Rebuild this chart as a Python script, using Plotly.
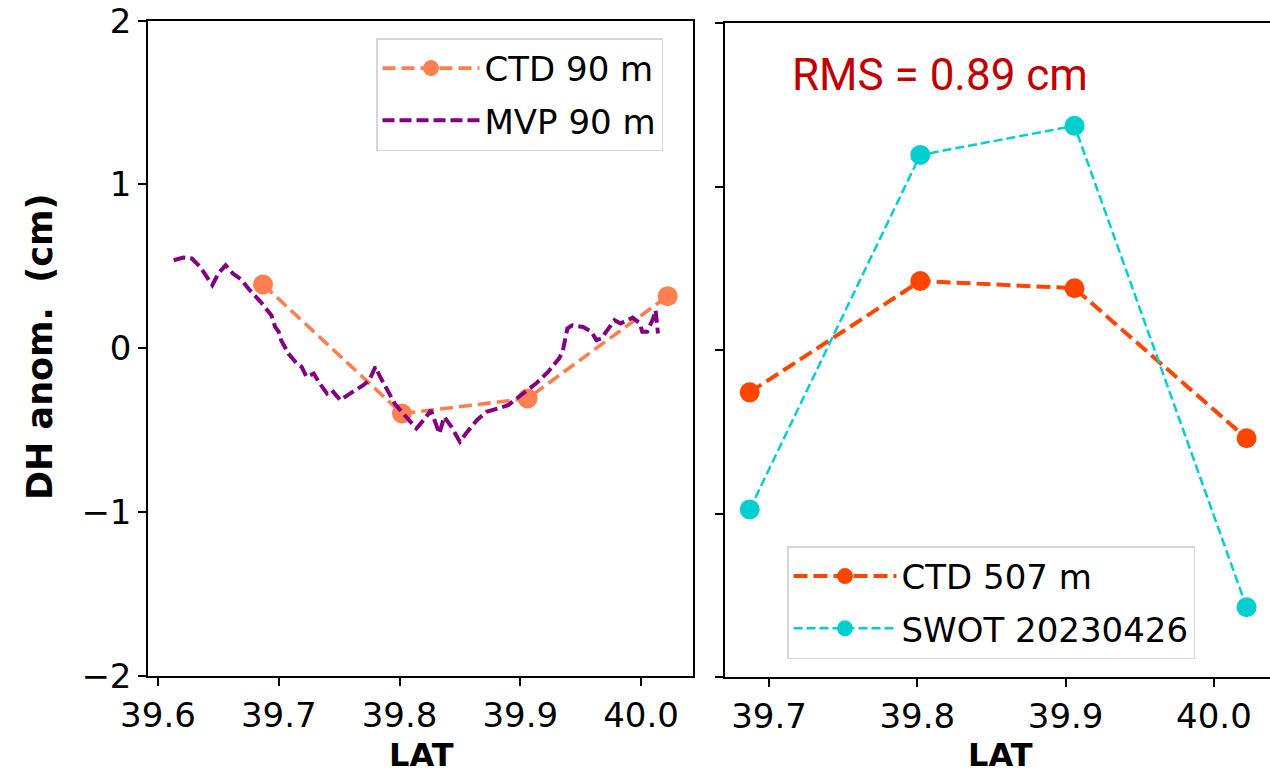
import plotly.graph_objects as go

# ---------------- data ----------------
ctd_lat = [39.687, 39.802, 39.906, 40.022]
ctd90_dh = [0.389, -0.399, -0.307, 0.318]

mvp_lat = [39.613, 39.621, 39.628, 39.635, 39.645, 39.650, 39.656, 39.662, 39.669, 39.676,
           39.685, 39.689, 39.694, 39.697, 39.700, 39.702, 39.708, 39.715, 39.719, 39.723,
           39.729, 39.734, 39.740, 39.744, 39.751, 39.759, 39.770, 39.775, 39.780, 39.784,
           39.791, 39.796, 39.803, 39.814, 39.821, 39.826, 39.833, 39.837, 39.843, 39.850,
           39.855, 39.864, 39.872, 39.880, 39.890, 39.897, 39.904, 39.913, 39.923, 39.932,
           39.935, 39.939, 39.943, 39.952, 39.959, 39.963, 39.967, 39.972, 39.978, 39.983,
           39.989, 39.993, 39.999, 40.001, 40.005, 40.010, 40.012, 40.014]
mvp90_dh = [0.537, 0.554, 0.548, 0.497, 0.385, 0.456, 0.507, 0.456, 0.419, 0.354,
            0.283, 0.242, 0.200, 0.130, 0.100, 0.049, -0.033, -0.094, -0.114, -0.175,
            -0.155, -0.216, -0.277, -0.257, -0.318, -0.277, -0.226, -0.195, -0.114, -0.175,
            -0.277, -0.338, -0.399, -0.490, -0.430, -0.379, -0.521, -0.419, -0.480, -0.572,
            -0.521, -0.440, -0.389, -0.368, -0.348, -0.307, -0.267, -0.216, -0.145, -0.063,
            -0.023, 0.120, 0.140, 0.130, 0.100, 0.049, 0.059, 0.110, 0.171, 0.151,
            0.171, 0.187, 0.151, 0.100, 0.100, 0.181, 0.232, 0.090]

ctd507_dh = [-0.259, 0.422, 0.378, -0.540]
swot_dh = [-0.975, 1.193, 1.371, -1.573]

y_ticks = [-2, -1, 0, 1, 2]
x_ticks_left = [39.6, 39.7, 39.8, 39.9, 40.0]
x_ticks_right = [39.7, 39.8, 39.9, 40.0]
rms_text = "RMS = 0.89 cm"
y_title = "DH anom.\u00a0\u00a0(cm)"
x_title = "LAT"

# ---------------- figure ----------------
W, H = 1270, 778
fig = go.Figure()

fig.add_trace(go.Scatter(
    x=ctd_lat, y=ctd90_dh, name="CTD 90 m", mode="lines+markers",
    line=dict(color="#FF7F50", width=3.6, dash="13px,6px"),
    marker=dict(color="#FF7F50", size=20),
    xaxis="x", yaxis="y", legend="legend", legendgroup="a"))
fig.add_trace(go.Scatter(
    x=mvp_lat, y=mvp90_dh, name="MVP 90 m", mode="lines",
    line=dict(color="#800080", width=4, dash="12px,5px"),
    xaxis="x", yaxis="y", legend="legend", legendgroup="b"))

fig.add_trace(go.Scatter(
    x=ctd_lat, y=ctd507_dh, name="CTD 507 m", mode="lines+markers",
    line=dict(color="#FF4500", width=4, dash="14px,6px"),
    marker=dict(color="#FF4500", size=20),
    xaxis="x2", yaxis="y2", legend="legend2", legendgroup="c"))
fig.add_trace(go.Scatter(
    x=ctd_lat, y=swot_dh, name="SWOT 20230426", mode="lines+markers",
    line=dict(color="#00CED1", width=2.5, dash="9px,4px"),
    marker=dict(color="#00CED1", size=20),
    xaxis="x2", yaxis="y2", legend="legend2", legendgroup="d"))

tickfont = dict(family="DejaVu Sans", size=34, color="black")
axis_common = dict(showline=True, linecolor="black", linewidth=2, ticks="outside",
                   ticklen=8, tickwidth=2, tickcolor="black", showgrid=False,
                   zeroline=False, tickfont=tickfont, automargin=False)

legend_common = dict(xanchor="left", yanchor="top",
                     bgcolor="rgba(255,255,255,0.85)", bordercolor="#d6d6d6", borderwidth=1.5,
                     font=dict(family="DejaVu Sans", size=34, color="black"),
                     tracegroupgap=5)

fig.update_layout(
    width=W, height=H, autosize=False,
    margin=dict(l=0, r=0, t=0, b=0, autoexpand=False),
    paper_bgcolor="white", plot_bgcolor="white",
    showlegend=True,
    xaxis=dict(domain=[148.3 / W, 693 / W], range=[39.592, 40.043],
               tickvals=x_ticks_left, ticktext=[f"{v:.1f}" for v in x_ticks_left],
               mirror=True, anchor="y", **axis_common),
    yaxis=dict(domain=[1 - 675.7 / H, 1 - 20.7 / H], range=[-2, 2],
               tickvals=y_ticks, mirror=True, anchor="x", **axis_common),
    xaxis2=dict(domain=[724.5 / W, 1.0], range=[39.670, 40.0378],
                tickvals=x_ticks_right, ticktext=[f"{v:.1f}" for v in x_ticks_right],
                mirror=True, anchor="y2", **axis_common),
    yaxis2=dict(domain=[1 - 677 / H, 1 - 23 / H], range=[-2, 2],
                tickvals=y_ticks, showticklabels=False, mirror=False, anchor="x2",
                **axis_common),
    legend=dict(x=376 / W, y=1 - 38 / H, itemwidth=97, **legend_common),
    legend2=dict(x=787 / W, y=1 - 546 / H, itemwidth=103, **legend_common),
    annotations=[
        dict(text=rms_text, x=790 / W, y=1 - 75 / H, xref="paper", yref="paper",
             xanchor="left", yanchor="middle", showarrow=False,
             font=dict(family="Roboto", size=44, color="#C00000")),
        dict(text=f"<b>{y_title}</b>", x=40 / W, y=1 - 347 / H, xref="paper", yref="paper",
             xanchor="center", yanchor="middle", textangle=-90, showarrow=False,
             font=dict(family="DejaVu Sans", size=35, color="black")),
        dict(text=f"<b>{x_title}</b>", x=421 / W, y=1 - 755 / H, xref="paper", yref="paper",
             xanchor="center", yanchor="middle", showarrow=False,
             font=dict(family="DejaVu Sans", size=32, color="black")),
        dict(text=f"<b>{x_title}</b>", x=1000 / W, y=1 - 755 / H, xref="paper", yref="paper",
             xanchor="center", yanchor="middle", showarrow=False,
             font=dict(family="DejaVu Sans", size=32, color="black")),
    ],
)

fig.write_html("out.html")
